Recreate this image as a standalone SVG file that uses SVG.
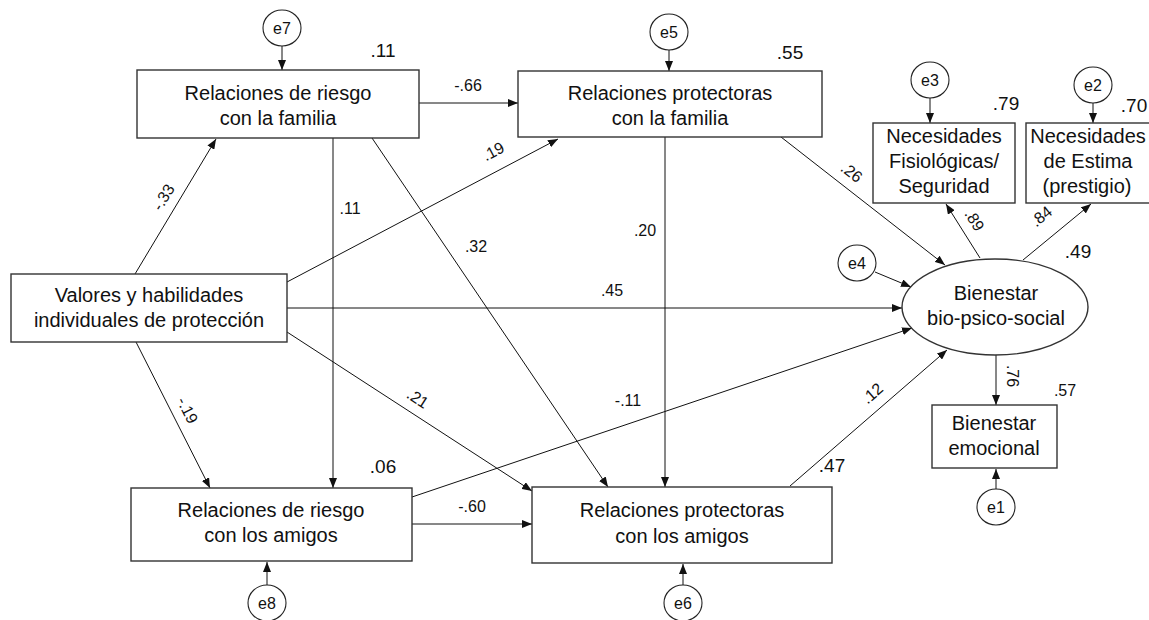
<svg xmlns="http://www.w3.org/2000/svg" width="1149" height="620" viewBox="0 0 1149 620">
<style>
  .box{fill:#fff;stroke:#333;stroke-width:1.4}
  .err{fill:#fff;stroke:#222;stroke-width:1.1}
  .t{font-family:"Liberation Sans",Arial,sans-serif;font-size:20px;fill:#111;text-anchor:middle}
  .et{font-family:"Liberation Sans",Arial,sans-serif;font-size:16px;fill:#111;text-anchor:middle}
  .pl{font-family:"Liberation Sans",Arial,sans-serif;font-size:16px;fill:#111;text-anchor:middle}
  .r2{font-family:"Liberation Sans",Arial,sans-serif;font-size:19px;fill:#111;text-anchor:middle}
  .c{fill:none;stroke:#111;stroke-width:1;marker-end:url(#ah)}
</style>
<defs>
  <marker id="ah" viewBox="0 0 10 8" refX="10" refY="4" markerWidth="10" markerHeight="8" orient="auto" markerUnits="userSpaceOnUse">
    <path d="M0,0 L10,4 L0,8 z" fill="#111"/>
  </marker>
</defs>
<rect width="1149" height="620" fill="#fff"/>

<g id="connectors">
  <line class="c" x1="282" y1="46" x2="282" y2="70"/>
  <line class="c" x1="669" y1="50" x2="669" y2="71"/>
  <line class="c" x1="930" y1="98" x2="930" y2="123"/>
  <line class="c" x1="1093" y1="103" x2="1093" y2="123"/>
  <line class="c" x1="875" y1="272" x2="911" y2="287"/>
  <line class="c" x1="267" y1="585" x2="267" y2="562"/>
  <line class="c" x1="683" y1="585" x2="683" y2="564"/>
  <line class="c" x1="996" y1="489" x2="996" y2="469"/>
  <line class="c" x1="419" y1="103" x2="518" y2="103"/>
  <line class="c" x1="135" y1="274" x2="216" y2="139"/>
  <line class="c" x1="287" y1="282" x2="558" y2="139"/>
  <line class="c" x1="287" y1="308" x2="902" y2="308"/>
  <line class="c" x1="287" y1="332" x2="532" y2="491"/>
  <line class="c" x1="136" y1="342" x2="210" y2="488"/>
  <line class="c" x1="333" y1="138" x2="333" y2="488"/>
  <line class="c" x1="372" y1="138" x2="608" y2="487"/>
  <line class="c" x1="665" y1="137" x2="665" y2="487"/>
  <line class="c" x1="781" y1="137" x2="945" y2="265"/>
  <line class="c" x1="412" y1="497" x2="912" y2="328"/>
  <line class="c" x1="412" y1="524" x2="532" y2="524"/>
  <line class="c" x1="790" y1="486" x2="947" y2="350"/>
  <line class="c" x1="980" y1="258" x2="946" y2="204"/>
  <line class="c" x1="1023" y1="260" x2="1091" y2="204"/>
  <line class="c" x1="996" y1="355" x2="996" y2="405"/>

  <text class="pl" x="468" y="91">-.66</text>
  <text class="pl" x="350" y="214">.11</text>
  <text class="pl" x="476" y="252">.32</text>
  <text class="pl" x="645" y="236">.20</text>
  <text class="pl" x="612" y="296">.45</text>
  <text class="pl" x="628" y="406">-.11</text>
  <text class="pl" x="472" y="512">-.60</text>
  <text class="pl" transform="translate(163,197) rotate(-59)" y="6">-.33</text>
  <text class="pl" transform="translate(493,151) rotate(-28)" y="6">.19</text>
  <text class="pl" transform="translate(852,172) rotate(38)" y="6">.26</text>
  <text class="pl" transform="translate(975,220) rotate(58)" y="6">.89</text>
  <text class="pl" transform="translate(1041,216) rotate(-39)" y="6">.84</text>
  <text class="pl" transform="translate(1013,376) rotate(90)" y="6">.76</text>
  <text class="pl" transform="translate(872,393) rotate(-41)" y="6">.12</text>
  <text class="pl" transform="translate(188,410) rotate(63)" y="6">-.19</text>
  <text class="pl" transform="translate(418,398) rotate(33)" y="6">.21</text>

  <text class="r2" x="383" y="57">.11</text>
  <text class="r2" x="790" y="59">.55</text>
  <text class="r2" x="1006" y="110">.79</text>
  <text class="r2" x="1134" y="112">.70</text>
  <text class="r2" x="1078" y="258">.49</text>
  <text class="r2" x="383" y="473">.06</text>
  <text class="r2" x="832" y="472">.47</text>
  <text class="pl" x="1065" y="396">.57</text>
</g>

<g id="e7"><ellipse class="err" cx="282" cy="28" rx="19" ry="18"/><text class="et" x="282" y="34">e7</text></g>
<g id="e5"><ellipse class="err" cx="669" cy="32" rx="19" ry="18"/><text class="et" x="669" y="38">e5</text></g>
<g id="e3"><ellipse class="err" cx="930" cy="80" rx="19" ry="18"/><text class="et" x="930" y="86">e3</text></g>
<g id="e2"><ellipse class="err" cx="1093" cy="85" rx="19" ry="18"/><text class="et" x="1093" y="91">e2</text></g>
<g id="e4"><ellipse class="err" cx="857" cy="263" rx="19" ry="18"/><text class="et" x="857" y="269">e4</text></g>
<g id="e8"><ellipse class="err" cx="267" cy="603" rx="19" ry="18"/><text class="et" x="267" y="609">e8</text></g>
<g id="e6"><ellipse class="err" cx="683" cy="603" rx="19" ry="18"/><text class="et" x="683" y="609">e6</text></g>
<g id="e1"><ellipse class="err" cx="996" cy="507" rx="19" ry="18"/><text class="et" x="996" y="513">e1</text></g>

<g id="rrf"><rect class="box" x="137" y="70" width="282" height="68"/>
  <text class="t" x="278" y="100">Relaciones de riesgo</text><text class="t" x="278" y="125">con la familia</text></g>
<g id="rpf"><rect class="box" x="518" y="71" width="304" height="66"/>
  <text class="t" x="670" y="100">Relaciones protectoras</text><text class="t" x="670" y="125">con la familia</text></g>
<g id="nfs"><rect class="box" x="873" y="123" width="142" height="80"/>
  <text class="t" x="944" y="143">Necesidades</text><text class="t" x="944" y="168">Fisiológicas/</text><text class="t" x="944" y="193">Seguridad</text></g>
<g id="ne"><rect class="box" x="1026" y="123" width="140" height="80"/>
  <text class="t" x="1088" y="143">Necesidades</text><text class="t" x="1088" y="168">de Estima</text><text class="t" x="1087" y="193">(prestigio)</text></g>
<g id="valores"><rect class="box" x="11" y="274" width="276" height="68"/>
  <text class="t" x="149" y="302">Valores y habilidades</text><text class="t" x="149" y="327">individuales de protección</text></g>
<g id="bienestar"><ellipse class="box" cx="995" cy="307" rx="93" ry="48"/>
  <text class="t" x="996" y="300">Bienestar</text><text class="t" x="996" y="325">bio-psico-social</text></g>
<g id="be"><rect class="box" x="932" y="405" width="125" height="63"/>
  <text class="t" x="994" y="430">Bienestar</text><text class="t" x="994" y="455">emocional</text></g>
<g id="rra"><rect class="box" x="131" y="488" width="281" height="73"/>
  <text class="t" x="271" y="517">Relaciones de riesgo</text><text class="t" x="271" y="542">con los amigos</text></g>
<g id="rpa"><rect class="box" x="532" y="487" width="300" height="76"/>
  <text class="t" x="682" y="517">Relaciones protectoras</text><text class="t" x="682" y="543">con los amigos</text></g>
</svg>
